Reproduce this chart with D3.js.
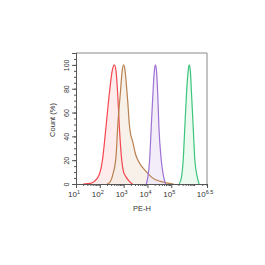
<!DOCTYPE html>
<html>
<head>
<meta charset="utf-8">
<script src="https://cdn.jsdelivr.net/npm/d3@7"></script>
<style>
  body { margin: 0; background: #fff; }
  svg { display: block; font-family: "Liberation Sans", Arial, sans-serif; }
</style>
</head>
<body>
<svg id="chart" width="265" height="265"></svg>
<script>
// peaks: [log10(PE-H), count %]
var redPeak = [[1.3,0],[1.6,0.5],[1.76,2],[1.97,7.5],[2.11,20],[2.26,48],[2.40,76],[2.52,95],[2.61,100],[2.68,95],[2.75,76],[2.82,48],[2.92,20],[3.0,10],[3.10,6],[3.25,2],[3.37,0]];
var brownPeak = [[2.3,0],[2.40,1],[2.54,7.5],[2.68,23],[2.75,48],[2.86,76],[2.94,95],[3.0,100],[3.06,95],[3.10,87],[3.17,70],[3.24,50],[3.30,41],[3.36,37],[3.42,32],[3.50,25],[3.60,20],[3.75,15],[3.92,11],[4.1,7],[4.3,4],[4.5,2.5],[4.7,1.5],[4.9,0.5],[5.1,0]];
var purplePeak = [[3.95,0],[4.02,6],[4.09,20],[4.16,48],[4.23,76],[4.29,95],[4.33,100],[4.38,95],[4.43,76],[4.48,48],[4.58,20],[4.68,6],[4.76,0]];
var greenPeak = [[5.33,0],[5.43,6],[5.50,20],[5.57,48],[5.64,76],[5.71,95],[5.75,100],[5.80,95],[5.85,76],[5.92,48],[5.99,20],[6.09,6],[6.17,0]];

var seriesList = [
    {data: redPeak, stroke: "#f5474f", fill: "#fde6e6"},
    {data: brownPeak, stroke: "#b9804f", fill: "#f4ece3"},
    {data: purplePeak, stroke: "#9d72d4", fill: "#efe7f8"},
    {data: greenPeak, stroke: "#3cc47c", fill: "#e5f8eb"}
];

var xMajor = [1, 2, 3, 4, 5, 6.5];
var yMajor = [0, 20, 40, 60, 80, 100];

var LEFT = 76, RIGHT = 207, TOP = 53, BOTTOM = 184;

var svg = d3.select("#chart");
var x = d3.scaleLinear().domain([1, 6.5]).range([LEFT, RIGHT]);
var y = d3.scaleLinear().domain([0, 110]).range([BOTTOM, TOP]);

// fills first, then lines on top
var area = d3.area()
    .x(function(d){ return x(d[0]); })
    .y0(y(0))
    .y1(function(d){ return y(d[1]); })
    .curve(d3.curveMonotoneX);
var line = d3.line()
    .x(function(d){ return x(d[0]); })
    .y(function(d){ return y(d[1]); })
    .curve(d3.curveMonotoneX);

seriesList.forEach(function(s){
    svg.append("path").datum(s.data)
        .attr("d", area)
        .style("fill", s.fill)
        .style("fill-opacity", 0.75);
});
seriesList.forEach(function(s){
    svg.append("path").datum(s.data)
        .attr("d", line)
        .style("fill", "none")
        .style("stroke", s.stroke)
        .style("stroke-width", 1.2);
});

// frame
svg.append("path")
    .attr("d", "M" + LEFT + "," + TOP + "H" + RIGHT + "V" + BOTTOM)
    .style("fill", "none").style("stroke", "#8a8a8a").style("stroke-width", 1);

// y axis
var yMinor = d3.range(0, 111, 5);
var yAxis = d3.axisLeft(y).tickValues(yMinor).tickSize(2).tickFormat("");
svg.append("g").attr("transform", "translate(" + LEFT + ",0)").call(yAxis);
var yAxisMajor = d3.axisLeft(y).tickValues(yMajor).tickSize(4);
var gy = svg.append("g").attr("transform", "translate(" + LEFT + ",0)").call(yAxisMajor);
gy.selectAll("text")
    .attr("x", 0)
    .attr("dy", "0")
    .attr("transform", "translate(-7,0) rotate(-90)")
    .style("text-anchor", "middle")
    .style("font-size", "7px")
    .style("fill", "#333");

// x axis: minor log ticks
var xMinor = [];
for (var k = 1; k < 7; k++) {
    for (var m = 2; m < 10; m++) {
        var v = k + Math.log10(m);
        if (v < 6.5) xMinor.push(v);
    }
}
var xAxisMinor = d3.axisBottom(x).tickValues(xMinor).tickSize(2).tickFormat("");
svg.append("g").attr("transform", "translate(0," + BOTTOM + ")").call(xAxisMinor);
var xAxisMajor = d3.axisBottom(x).tickValues(xMajor).tickSize(4).tickFormat("");
svg.append("g").attr("transform", "translate(0," + BOTTOM + ")").call(xAxisMajor);

svg.selectAll(".domain").style("stroke", "#555");
svg.selectAll(".tick line").style("stroke", "#555");

// exponent labels
var lbl = svg.append("g").selectAll("text").data(xMajor).enter().append("text")
    .attr("x", function(d){ return x(d) - 2; })
    .attr("y", 197)
    .style("font-size", "8px")
    .style("fill", "#333")
    .style("text-anchor", "middle");
lbl.append("tspan").text("10");
lbl.append("tspan").attr("dy", -3).style("font-size", "5.5px").text(function(d){ return d; });

svg.append("text")
    .attr("x", 142).attr("y", 211)
    .style("font-size", "7.5px").style("fill", "#333")
    .style("text-anchor", "middle")
    .text("PE-H");

svg.append("text")
    .attr("transform", "translate(55," + 120 + ") rotate(-90)")
    .style("font-size", "7.5px").style("fill", "#333")
    .style("text-anchor", "middle")
    .text("Count (%)");
</script>
</body>
</html>
